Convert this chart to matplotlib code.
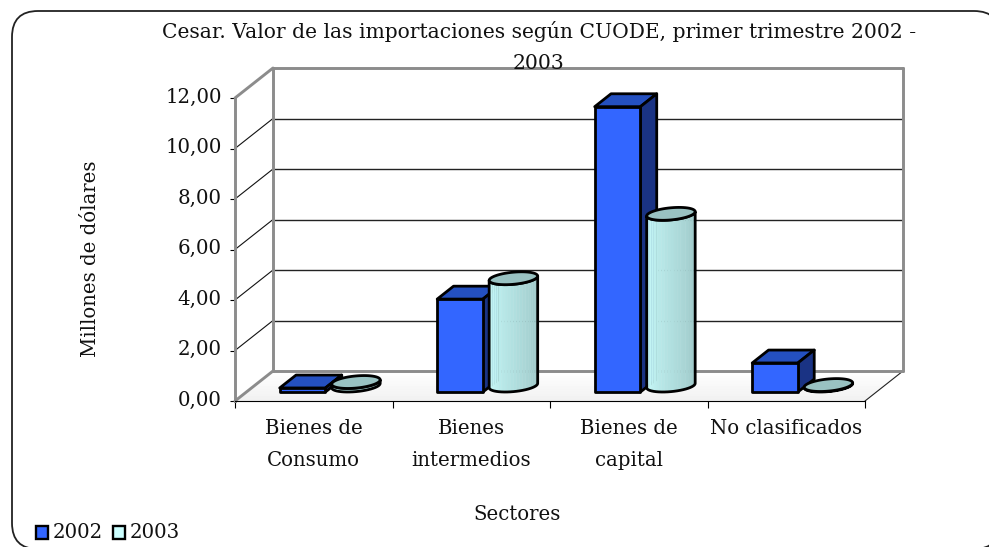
import numpy as np
import matplotlib
matplotlib.use("Agg")
import matplotlib.pyplot as plt
from matplotlib.patches import Polygon, FancyBboxPatch, Rectangle

categories = ["Bienes de\nConsumo", "Bienes\nintermedios", "Bienes de\ncapital", "No clasificados"]
series_names = ["2002", "2003"]
values_2002 = [0.16, 3.68, 11.30, 1.15]
values_2003 = [0.14, 4.25, 6.80, 0.02]
y_ticks = [0, 2, 4, 6, 8, 10, 12]
y_tick_labels = ["0,00", "2,00", "4,00", "6,00", "8,00", "10,00", "12,00"]
title_text = "Cesar. Valor de las importaciones según CUODE, primer trimestre 2002 -\n2003"

W, H = 989, 547
FONT = "DejaVu Serif"
FS = 14.2
plt.rcParams["font.family"] = FONT
fig = plt.figure(figsize=(W / 100, H / 100), dpi=100, facecolor="white")

# rounded outer frame, extends past the right and bottom edges of the canvas
frame_ax = fig.add_axes([0, 0, 1, 1], zorder=0)
frame_ax.set_xlim(0, W); frame_ax.set_ylim(H, 0); frame_ax.axis("off")
frame_ax.add_patch(FancyBboxPatch((12 + 26, 11 + 26), 1000 - 12 - 52, 549 - 11 - 52,
                                  boxstyle="round,pad=26,rounding_size=26",
                                  fc="white", ec="#222222", lw=1.3))

# main axes is the front plane of the 3-D box
L, R, B, T = 235, 865, 401, 98
ax = fig.add_axes([L / W, 1 - B / H, (R - L) / W, (B - T) / H], zorder=1)
ax.patch.set_alpha(0)
ax.set_xlim(0, 4); ax.set_ylim(0, 12)
DX = 38 / ((R - L) / 4)     # box depth in category units
DY = 30 / ((B - T) / 12)    # box depth in value units
GREY = "#8c8c8c"


def P(x, y, d=0.0):
    return (x + d * DX, y + d * DY)


def poly(pts, fc="none", ec="none", lw=0, z=2, **kw):
    ax.add_patch(Polygon(pts, closed=True, fc=fc, ec=ec, lw=lw, zorder=z,
                         clip_on=False, joinstyle="round", **kw))


def seg(a, b, color="black", lw=0.8, z=1.5):
    ax.plot([a[0], b[0]], [a[1], b[1]], color=color, lw=lw, zorder=z, clip_on=False,
            solid_capstyle="round")


# floor with a soft gradient
for i in range(12):
    d0, d1 = i / 12, (i + 1) / 12
    g = 0.945 + 0.055 * (i / 11)
    poly([P(0, 0, d0), P(4, 0, d0), P(4, 0, d1), P(0, 0, d1)], fc=(g, g, g), ec=(g, g, g), lw=0.3, z=1)

# gridlines on back wall and side wall
for v in y_ticks[1:-1]:
    seg(P(0, v, 0), P(0, v, 1), "#111111", 0.8)
    seg(P(0, v, 1), P(4, v, 1), "#222222", 1.0)

# grey wall edges
for a, b in [(P(0, 12, 0), P(0, 12, 1)), (P(0, 12, 1), P(4, 12, 1)), (P(4, 12, 1), P(4, 0, 1)),
             (P(4, 0, 1), P(0, 0, 1)), (P(0, 0, 1), P(0, 12, 1)), (P(0, 0, 0), P(0, 0, 1))]:
    seg(a, b, GREY, 2.1, 1.6)
seg(P(4, 0, 0), P(4, 0, 1), "#222222", 0.8)

BW = 0.29
OFF = 0.1435
D0, D1 = 0.30, 0.73
FRONT, TOP, SIDE = "#3366ff", "#2450c0", "#1a3384"
EDGE = dict(ec="black", lw=2.0)


def box(xc, v):
    x0, x1 = xc - BW / 2, xc + BW / 2
    poly([P(x0, v, D0), P(x1, v, D0), P(x1, v, D1), P(x0, v, D1)], fc=TOP, z=3, **EDGE)
    poly([P(x1, 0, D0), P(x1, 0, D1), P(x1, v, D1), P(x1, v, D0)], fc=SIDE, z=3, **EDGE)
    poly([P(x0, 0, D0), P(x1, 0, D0), P(x1, v, D0), P(x0, v, D0)], fc=FRONT, z=3, **EDGE)


def cylinder(xc, v):
    dc, dh = 0.515, 0.215
    a = BW / 2
    t0 = np.arctan2(dh * DX, a)
    ts = np.linspace(t0 + np.pi, t0 + 2 * np.pi, 25)
    ring = lambda t, y: P(xc + a * np.cos(t), y, dc + dh * np.sin(t))
    light = np.array([0.80, 1.00, 1.00])
    mid = np.array([0.72, 0.91, 0.91])
    dark = np.array([0.61, 0.77, 0.77])
    arc = [ring(t, 0) for t in ts]
    top_arc = [ring(t, v) for t in ts]
    for i in range(len(ts) - 1):
        f = i / (len(ts) - 2)
        c = light + (mid - light) * (f / 0.35) if f < 0.35 else mid + (dark - mid) * ((f - 0.35) / 0.65)
        c = tuple(c)
        poly([arc[i], arc[i + 1], top_arc[i + 1], top_arc[i]], fc=c, ec=c, lw=0.3, z=3)
    poly(arc + top_arc[::-1], z=3, **EDGE)
    poly([ring(t, v) for t in np.linspace(0, 2 * np.pi, 60)], fc="#99c2c2", z=3, **EDGE)


for i in range(len(categories)):
    xc = i + 0.5
    box(xc - OFF, values_2002[i])
    cylinder(xc + OFF, values_2003[i])

# axes furniture
for s in ["top", "right"]:
    ax.spines[s].set_visible(False)
ax.spines["left"].set_color(GREY); ax.spines["left"].set_linewidth(2.1)
ax.spines["bottom"].set_color("black"); ax.spines["bottom"].set_linewidth(0.8)
ax.spines["left"].set_zorder(1.6); ax.spines["bottom"].set_zorder(1.7)
ax.set_yticks(y_ticks)
ax.set_yticklabels(y_tick_labels, fontsize=FS, color="#111111")
ax.tick_params(axis="y", length=3.5, width=0.8, pad=6)
for lab in ax.get_yticklabels():
    lab.set_transform(lab.get_transform() + matplotlib.transforms.ScaledTranslation(0, 3 / 100, fig.dpi_scale_trans))
ax.set_xticks(range(5))
ax.set_xticklabels([])
ax.tick_params(axis="x", which="major", length=5, width=0.8)
ax.set_xticks([i + 0.5 for i in range(4)], minor=True)
ax.set_xticklabels(categories, minor=True, fontsize=FS, color="#111111", linespacing=1.85)
ax.tick_params(axis="x", which="minor", length=0, pad=13)

# texts in figure pixels
def ftext(x, y, s, **kw):
    fig.text(x / W, 1 - y / H, s, fontsize=kw.pop("fontsize", FS), color="#111111", zorder=5, **kw)


ftext(539, 47, title_text, ha="center", va="center", linespacing=1.75, fontsize=14.6)
ftext(90, 259, "Millones de dólares", ha="center", va="center", rotation=90)
ftext(517, 514, "Sectores", ha="center", va="center")

# legend
frame_top = fig.add_axes([0, 0, 1, 1], zorder=2)
frame_top.set_xlim(0, W); frame_top.set_ylim(H, 0); frame_top.axis("off")
for name, colour, x0 in zip(series_names, [FRONT, "#ccffff"], [36, 113]):
    frame_top.add_patch(Rectangle((x0, 526), 12, 13, fc=colour, ec="black", lw=1.7))
    ftext(x0 + 17, 532, name, ha="left", va="center", fontsize=FS)

fig.savefig("out.png", dpi=100, facecolor="white")
